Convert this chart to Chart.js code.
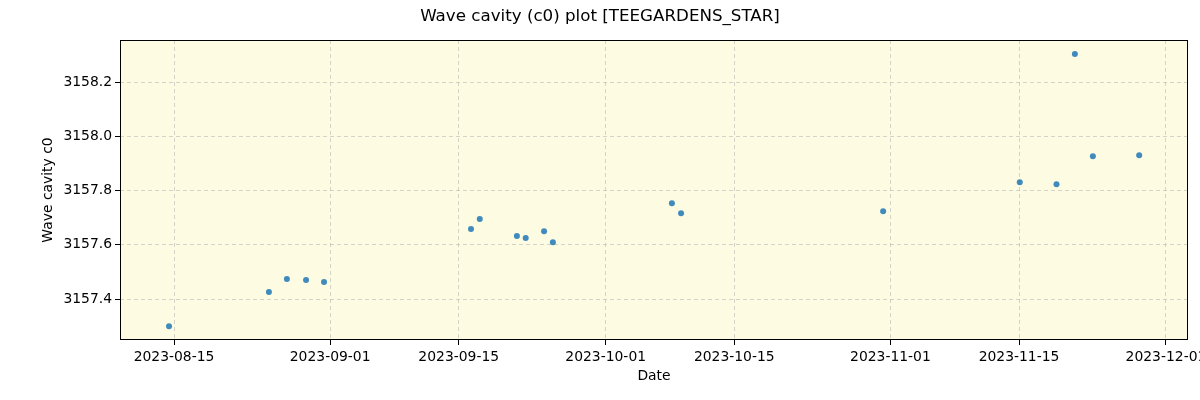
<!DOCTYPE html>
<html>
<head>
<meta charset="utf-8">
<script src="https://cdn.jsdelivr.net/npm/chart.js@4.4.0/dist/chart.umd.min.js"></script>
<style>
  html, body { margin: 0; padding: 0; background: #fff; }
  #wrap { width: 1200px; height: 400px; position: relative; }
</style>
</head>
<body>
<div id="wrap"><canvas id="cavityChart"></canvas></div>
<script>
const obsDates = [
    '2023-08-14T11:00', '2023-08-25T08:00', '2023-08-27T07:00', '2023-08-29T09:00',
    '2023-08-31T08:00', '2023-09-16T08:00', '2023-09-17T07:00', '2023-09-21T08:00',
    '2023-09-22T07:00', '2023-09-24T07:00', '2023-09-25T06:00', '2023-10-08T05:00',
    '2023-10-09T05:00', '2023-10-31T05:00', '2023-11-15T02:00', '2023-11-19T02:00',
    '2023-11-21T02:00', '2023-11-23T01:00', '2023-11-28T02:00'
];
const c0Values = [
    3157.300, 3157.426, 3157.474, 3157.470,
    3157.463, 3157.658, 3157.695, 3157.632,
    3157.625, 3157.650, 3157.609, 3157.753,
    3157.716, 3157.724, 3157.831, 3157.823,
    3158.303, 3157.926, 3157.930
];
const xTickDates = ['2023-08-15', '2023-09-01', '2023-09-15', '2023-10-01',
                    '2023-10-15', '2023-11-01', '2023-11-15', '2023-12-01'];
const yTickValues = [3157.4, 3157.6, 3157.8, 3158.0, 3158.2];

// x axis works in days since 2023-08-15 (no date adapter available)
const DAY = 86400000;
const epoch = Date.UTC(2023, 7, 15);
function toDays(s) {
    const [d, t] = s.split('T');
    const [y, m, dd] = d.split('-').map(Number);
    const [hh, mm] = (t || '00:00').split(':').map(Number);
    return (Date.UTC(y, m - 1, dd, hh, mm) - epoch) / DAY;
}
function dayLabel(v) {
    const dt = new Date(epoch + Math.round(v) * DAY);
    return dt.toISOString().slice(0, 10);
}

const points = obsDates.map((d, i) => ({ x: toDays(d), y: c0Values[i] }));
const xTicks = xTickDates.map(toDays);

const font = { family: 'DejaVu Sans', size: 13.9 };

// background fill, full frame, figure title and axis titles
const framePlugin = {
    id: 'frame',
    beforeDraw(chart) {
        const { ctx, chartArea: a } = chart;
        ctx.save();
        ctx.fillStyle = '#fdfce3';
        ctx.fillRect(a.left, a.top, a.right - a.left, a.bottom - a.top);
        ctx.restore();
    },
    afterDraw(chart) {
        const { ctx, chartArea: a } = chart;
        ctx.save();
        ctx.strokeStyle = '#000';
        ctx.lineWidth = 1;
        ctx.strokeRect(a.left + 0.5, a.top + 0.5, a.right - a.left - 1, a.bottom - a.top - 1);
        ctx.fillStyle = '#000';
        ctx.textAlign = 'center';
        ctx.textBaseline = 'middle';
        ctx.font = '16.7px "DejaVu Sans"';
        ctx.fillText('Wave cavity (c0) plot [TEEGARDENS_STAR]', 600, 17);
        ctx.font = '13.9px "DejaVu Sans"';
        ctx.fillText('Date', (a.left + a.right) / 2, 376);
        ctx.translate(48, (a.top + a.bottom) / 2);
        ctx.rotate(-Math.PI / 2);
        ctx.fillText('Wave cavity c0', 0, 0);
        ctx.restore();
    }
};

new Chart(document.getElementById('cavityChart'), {
    type: 'scatter',
    data: {
        datasets: [{
            label: 'c0',
            data: points,
            backgroundColor: 'rgba(31, 119, 180, 0.85)',
            borderWidth: 0,
            pointRadius: 3,
            pointHoverRadius: 3
        }]
    },
    options: {
        responsive: true,
        maintainAspectRatio: false,
        animation: false,
        layout: { padding: { top: 40, right: 12, left: 0, bottom: 0 } },
        plugins: {
            legend: { display: false },
            tooltip: { enabled: false }
        },
        scales: {
            x: {
                type: 'linear',
                min: -5.88,
                max: 110.4,
                afterBuildTicks: s => { s.ticks = xTicks.map(v => ({ value: v })); },
                afterFit: s => { s.height = 60; s.paddingRight = 0; s.paddingLeft = 0; },
                ticks: {
                    font: font,
                    color: '#000',
                    padding: 4,
                    maxRotation: 0,
                    autoSkip: false,
                    callback: v => dayLabel(v)
                },
                grid: {
                    color: 'rgba(176, 176, 176, 0.55)',
                    tickColor: '#000',
                    tickLength: 5,
                    tickBorderDash: []
                },
                border: { display: false, dash: [4, 3] }
            },
            y: {
                min: 3157.249,
                max: 3158.355,
                afterBuildTicks: s => { s.ticks = yTickValues.map(v => ({ value: v })); },
                afterFit: s => { s.width = 120; s.paddingTop = 0; s.paddingBottom = 0; },
                ticks: {
                    font: font,
                    color: '#000',
                    padding: 3,
                    callback: v => v.toFixed(1)
                },
                grid: {
                    color: 'rgba(176, 176, 176, 0.55)',
                    tickColor: '#000',
                    tickLength: 5,
                    tickBorderDash: []
                },
                border: { display: false, dash: [4, 3] }
            }
        }
    },
    plugins: [framePlugin]
});
</script>
</body>
</html>
